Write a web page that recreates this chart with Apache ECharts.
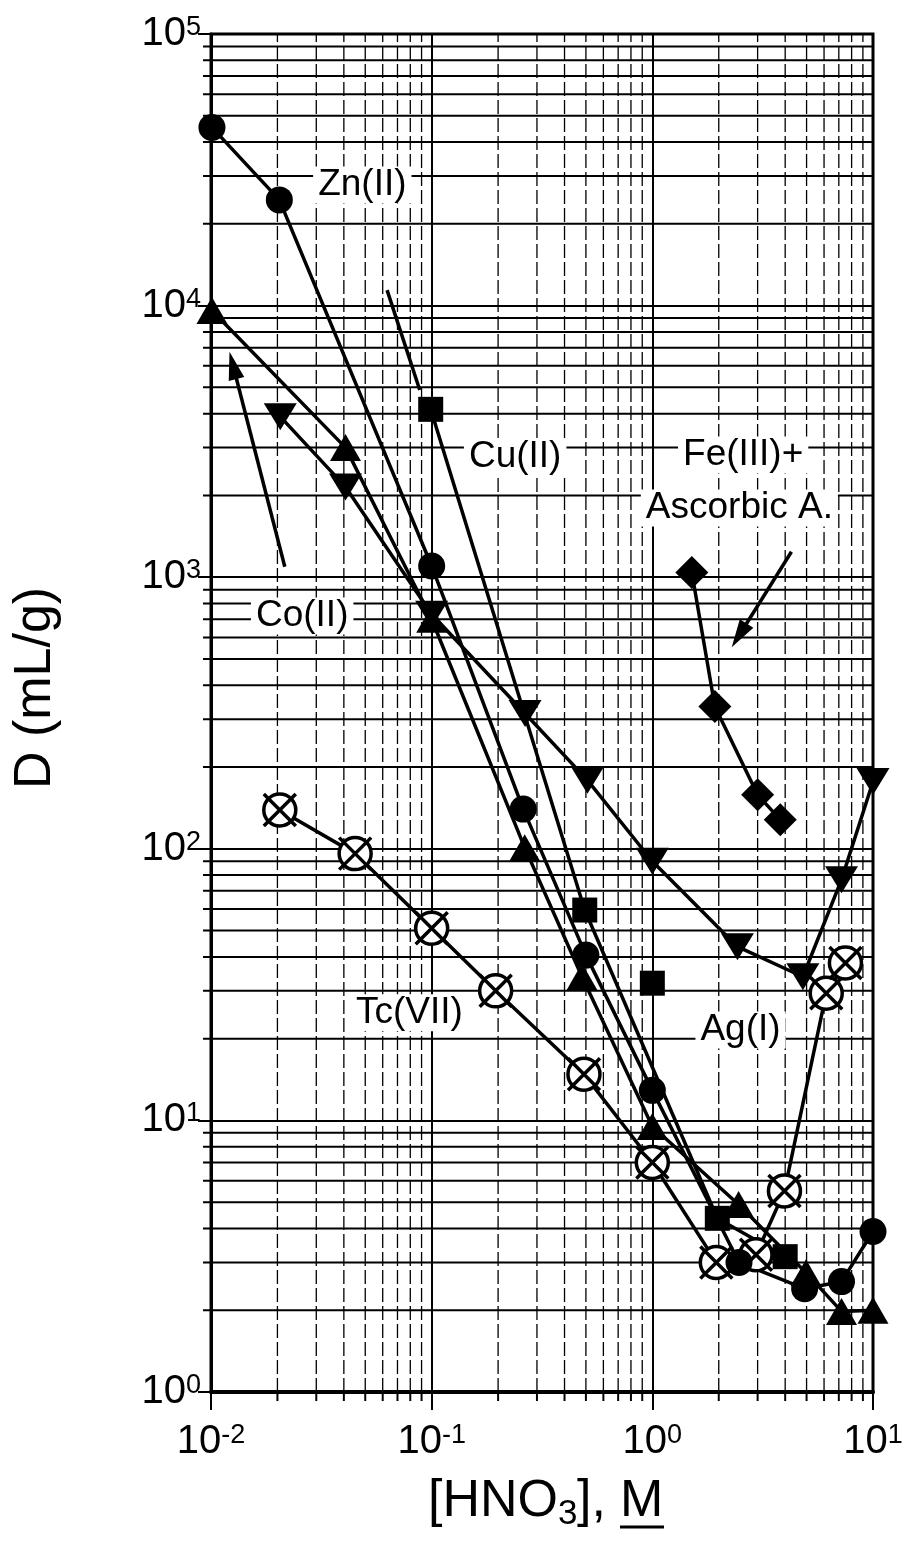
<!DOCTYPE html>
<html><head><meta charset="utf-8">
<script src="https://cdn.jsdelivr.net/npm/echarts@6/dist/echarts.min.js"></script>
<style>html,body{margin:0;padding:0;background:#fff}#c{width:905px;height:1551px}</style>
</head><body><div id="c"></div>
<script>
// ---- axis ranges and tick labels ----
const X_MIN = 0.01, X_MAX = 10, Y_MIN = 1, Y_MAX = 1e5;
const xTickExp = [-2, -1, 0, 1];
const yTickExp = [0, 1, 2, 3, 4, 5];

// ---- data ----
const xZn = [0.0101, 0.0204, 0.1, 0.26, 0.5, 1.0, 2.47, 4.9, 7.2, 10];
const yZn = [45300, 24500, 1100, 140, 40.6, 12.9, 3.0, 2.4, 2.55, 3.9];

const xCo = [0.0101, 0.0407, 0.1, 0.264, 0.48, 1.0, 2.46, 4.97, 7.2, 10];
const yCo = [9600, 3000, 700, 101, 33.8, 9.5, 4.9, 2.75, 1.98, 2.0];

const xCu = [0.099, 0.494, 1.97, 4.0];
const yCu = [4150, 59.5, 4.36, 3.15];
const xCuLone = [1.0];
const yCuLone = [32];

const xAg = [0.0206, 0.0407, 0.1, 0.265, 0.508, 1.0, 2.43, 4.81, 7.2, 10];
const yAg = [3900, 2150, 730, 315, 179, 90, 43.6, 33.8, 77, 177];

const xTc = [0.0205, 0.045, 0.1, 0.195, 0.49, 1.0, 1.95, 2.95, 3.97, 6.14, 7.5];
const yTc = [139, 96, 51, 30, 14.8, 7.0, 3.0, 3.2, 5.5, 29.4, 38];

const xFe = [1.51, 1.92, 3.0, 3.8];
const yFe = [1040, 334, 158, 128];

// ---- annotations (data coordinates) ----
const labelText = ['Zn(II)', 'Co(II)', 'Cu(II)', 'Fe(III)+', 'Ascorbic A.', 'Tc(VII)', 'Ag(I)'];
const labelX = [0.0485, 0.0259, 0.239, 2.58, 2.48, 0.0792, 2.51];
const labelY = [27800, 720, 2770, 2820, 1798, 24.9, 21.5];

const arrowX1 = [0.0216, 0.0628, 4.27];
const arrowY1 = [1093, 11400, 1241];
const arrowX2 = [0.01213, 0.0883, 2.29];
const arrowY2 = [6760, 4890, 552];
const arrowHead = [1, 0, 1];

// ---- helpers ----
const FONT = "'Liberation Sans', Arial, Helvetica, sans-serif";
const pairs = (xs, ys) => xs.map((x, i) => [x, ys[i]]);
const minorTicks = (lo, hi) => { const o = []; for (let e = lo; e < hi; e++) for (let m = 2; m <= 9; m++) o.push(m * Math.pow(10, e)); return o; };
const xMinor = minorTicks(xTickExp[0], xTickExp[xTickExp.length - 1]);
const yMinor = minorTicks(yTickExp[0], yTickExp[yTickExp.length - 1]);

const TC_PATH = 'path://M50,8 A42,42 0 1,1 49.9,8 Z M8,8 L92,92 M92,8 L8,92';

function dataSeries(name, xs, ys, symbol, size, extra) {
  return Object.assign({
    name, type: 'line', data: pairs(xs, ys), symbol, symbolSize: size,
    clip: false, z: 3, animation: false,
    lineStyle: { color: '#000', width: 3.5 },
    itemStyle: { color: '#000' }
  }, extra || {});
}

const expLabel = v => {
  const e = Math.round(Math.log10(v));
  return '{b|10}{s|' + e + '}';
};
const richTick = {
  b: { fontSize: 40, fontFamily: FONT, color: '#000', lineHeight: 40 },
  s: { fontSize: 27, fontFamily: FONT, color: '#000', lineHeight: 14, verticalAlign: 'top' }
};

const chart = echarts.init(document.getElementById('c'), null, { renderer: 'canvas' });
chart.setOption({
  animation: false,
  backgroundColor: '#fff',
  grid: { left: 211, right: 32, top: 34, bottom: 159, show: true, borderColor: '#000', borderWidth: 3, containLabel: false, outerBoundsMode: 'none' },
  xAxis: {
    type: 'log', logBase: 10, min: X_MIN, max: X_MAX,
    axisLine: { show: true, lineStyle: { color: '#000', width: 4 } },
    axisTick: { show: true, inside: false, length: 18, lineStyle: { color: '#000', width: 2 } },
    splitLine: { show: true, lineStyle: { color: '#000', width: 2 } },
    axisLabel: { formatter: expLabel, rich: richTick, margin: 30, color: '#000' }
  },
  yAxis: {
    type: 'log', logBase: 10, min: Y_MIN, max: Y_MAX,
    axisLine: { show: true, lineStyle: { color: '#000', width: 3 } },
    axisTick: { show: true, inside: false, length: 13, lineStyle: { color: '#000', width: 2 } },
    splitLine: { show: true, lineStyle: { color: '#000', width: 2 } },
    axisLabel: { formatter: expLabel, rich: richTick, margin: 10, color: '#000' }
  },
  graphic: [
    { type: 'text', x: 36, y: 688, rotation: Math.PI / 2,
      style: { text: 'D (mL/g)', font: '52px ' + FONT, fill: '#000', align: 'center', verticalAlign: 'middle' } },
    { type: 'text', x: 428, y: 1502, style: { text: '[HNO', font: '52px ' + FONT, fill: '#000', align: 'left', verticalAlign: 'middle' } },
    { type: 'text', x: 558, y: 1514, style: { text: '3', font: '35px ' + FONT, fill: '#000', align: 'left', verticalAlign: 'middle' } },
    { type: 'text', x: 577, y: 1502, style: { text: '],', font: '52px ' + FONT, fill: '#000', align: 'left', verticalAlign: 'middle' } },
    { type: 'text', x: 620, y: 1502, style: { text: 'M', font: '52px ' + FONT, fill: '#000', align: 'left', verticalAlign: 'middle' } },
    { type: 'line', shape: { x1: 620, y1: 1527, x2: 664, y2: 1527 }, style: { stroke: '#000', lineWidth: 3 } }
  ],
  series: [
    { type: 'custom', name: 'xminor', z: 1, silent: true, clip: false, animation: false,
      data: xMinor.map(v => [v, Y_MIN]),
      renderItem(params, api) {
        const v = api.value(0);
        const b = api.coord([v, Y_MIN]), t = api.coord([v, Y_MAX]);
        return { type: 'group', children: [
          { type: 'line', shape: { x1: b[0], y1: b[1], x2: t[0], y2: t[1] }, style: { stroke: '#000', lineWidth: 1.3, lineDash: [14, 4] } },
          { type: 'line', shape: { x1: b[0], y1: b[1], x2: b[0], y2: b[1] + 9 }, style: { stroke: '#000', lineWidth: 2 } }
        ] };
      } },
    { type: 'custom', name: 'yminor', z: 1, silent: true, clip: false, animation: false,
      data: yMinor.map(v => [X_MIN, v]),
      renderItem(params, api) {
        const v = api.value(1);
        const l = api.coord([X_MIN, v]), r = api.coord([X_MAX, v]);
        return { type: 'line', shape: { x1: l[0] - 8, y1: l[1], x2: r[0], y2: r[1] }, style: { stroke: '#000', lineWidth: 2 } };
      } },
    { type: 'custom', name: 'arrows', z: 2, silent: true, clip: false, animation: false,
      data: arrowX1.map((x, i) => [x, arrowY1[i], arrowX2[i], arrowY2[i], arrowHead[i]]),
      encode: { x: [0, 2], y: [1, 3] },
      renderItem(params, api) {
        const p1 = api.coord([api.value(0), api.value(1)]);
        const p2 = api.coord([api.value(2), api.value(3)]);
        const children = [];
        const dx = p2[0] - p1[0], dy = p2[1] - p1[1], L = Math.hypot(dx, dy);
        const ux = dx / L, uy = dy / L;
        const head = api.value(4) ? 28 : 0;
        children.push({ type: 'line', shape: { x1: p1[0], y1: p1[1], x2: p2[0] - ux * head * 0.6, y2: p2[1] - uy * head * 0.6 }, style: { stroke: '#000', lineWidth: 3.5 } });
        if (head) {
          const bx = p2[0] - ux * head, by = p2[1] - uy * head, w = 8;
          children.push({ type: 'polygon', shape: { points: [[p2[0], p2[1]], [bx - uy * w, by + ux * w], [bx + uy * w, by - ux * w]] }, style: { fill: '#000' } });
        }
        return { type: 'group', children };
      } },
    dataSeries('Tc(VII)', xTc, yTc, TC_PATH, 32, { itemStyle: { color: '#fff', borderColor: '#000', borderWidth: 3.5 } }),
    dataSeries('Ag(I)', xAg, yAg, 'triangle', [33, 27], { symbolRotate: 180 }),
    dataSeries('Co(II)', xCo, yCo, 'triangle', [31, 27]),
    dataSeries('Cu(II)', xCu, yCu, 'rect', 25),
    dataSeries('Cu(II) b', xCuLone, yCuLone, 'rect', 25, { lineStyle: { width: 0 } }),
    dataSeries('Zn(II)', xZn, yZn, 'circle', 27),
    dataSeries('Fe(III)', xFe, yFe, 'diamond', 33),
    { type: 'custom', name: 'labels', z: 6, silent: true, clip: false, animation: false,
      data: labelX.map((x, i) => [x, labelY[i], i]),
      renderItem(params, api) {
        const p = api.coord([api.value(0), api.value(1)]);
        return { type: 'text', x: p[0], y: p[1], z2: 10,
          style: { text: labelText[api.value(2)], font: '37px ' + FONT, fill: '#000', align: 'center', verticalAlign: 'middle', backgroundColor: '#fff', padding: [0, 5] } };
      } }
  ]
});
</script></body></html>
